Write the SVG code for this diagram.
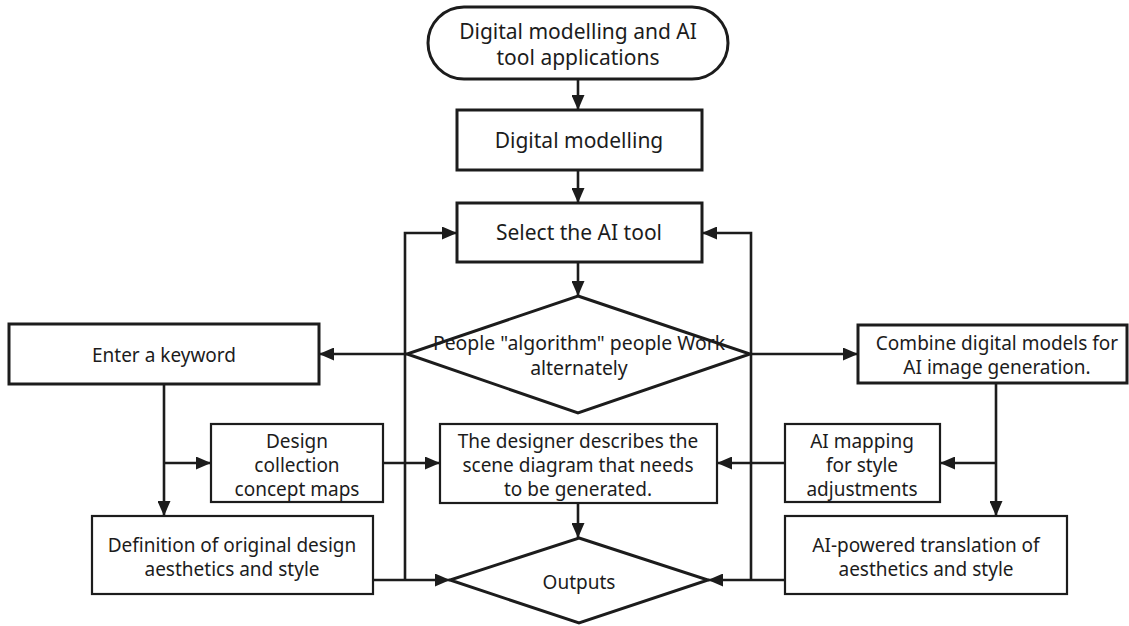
<svg xmlns="http://www.w3.org/2000/svg" width="1129" height="626" viewBox="0 0 1129 626">
<style>
.n{fill:#fff;stroke:#1c1c1c;stroke-width:2.2}
.b{fill:#fff;stroke:#1c1c1c;stroke-width:3}
.c{fill:none;stroke:#1c1c1c;stroke-width:2.6}
text{font-family:"Noto Sans","Open Sans",sans-serif;font-size:19px;fill:#1c1c1c;text-anchor:middle;dominant-baseline:central}
text.l{font-size:21px}
</style>
<defs>
<marker id="a" markerUnits="userSpaceOnUse" markerWidth="15" markerHeight="13" refX="15" refY="6.5" orient="auto">
<path d="M0,0 L15,6.5 L0,13 z" fill="#1c1c1c"/>
</marker>
</defs>
<rect width="1129" height="626" fill="#fff"/>
<g id="connectors">
<path class="c" d="M578,79 V110" marker-end="url(#a)"/>
<path class="c" d="M578,170 V203" marker-end="url(#a)"/>
<path class="c" d="M578,262 V296" marker-end="url(#a)"/>
<path class="c" d="M407,354 H319" marker-end="url(#a)"/>
<path class="c" d="M750,354 H858" marker-end="url(#a)"/>
<path class="c" d="M164,384 V516" marker-end="url(#a)"/>
<path class="c" d="M164,463 H211" marker-end="url(#a)"/>
<path class="c" d="M383,463 H440" marker-end="url(#a)"/>
<path class="c" d="M373,580 H450" marker-end="url(#a)"/>
<path class="c" d="M405,580 V233 H457" marker-end="url(#a)"/>
<path class="c" d="M578,503 V538" marker-end="url(#a)"/>
<path class="c" d="M996,383 V516" marker-end="url(#a)"/>
<path class="c" d="M996,463 H940" marker-end="url(#a)"/>
<path class="c" d="M785,463 H717" marker-end="url(#a)"/>
<path class="c" d="M785,580 H708" marker-end="url(#a)"/>
<path class="c" d="M751,580 V233 H702" marker-end="url(#a)"/>
</g>
<g id="start">
<rect class="b" x="428" y="7" width="300" height="72" rx="36" ry="36"/>
<text class="l" x="578" y="31">Digital modelling and AI</text>
<text class="l" x="578" y="57">tool applications</text>
</g>
<g id="digital-modelling">
<rect class="b" x="457" y="110" width="245" height="60"/>
<text class="l" x="579" y="140">Digital modelling</text>
</g>
<g id="select-ai-tool">
<rect class="b" x="457" y="203" width="245" height="59"/>
<text class="l" x="579" y="232">Select the AI tool</text>
</g>
<g id="people-algorithm">
<path class="b" d="M578,296 L750,354 L578,413 L407,354 Z"/>
<text x="579" y="342" style="font-size:19.4px">People "algorithm" people Work</text>
<text x="579" y="367" style="font-size:19.4px">alternately</text>
</g>
<g id="enter-keyword">
<rect class="b" x="9" y="324" width="310" height="60"/>
<text x="164" y="355">Enter a keyword</text>
</g>
<g id="combine">
<rect class="b" x="858" y="325" width="269" height="58"/>
<text x="997" y="343">Combine digital models for</text>
<text x="997" y="367">AI image generation.</text>
</g>
<g id="design-collection">
<rect class="n" x="211" y="424" width="172" height="78"/>
<text x="297" y="441">Design</text>
<text x="297" y="465">collection</text>
<text x="297" y="489">concept maps</text>
</g>
<g id="designer-describes">
<rect class="n" x="440" y="424" width="277" height="79"/>
<text x="578" y="441">The designer describes the</text>
<text x="578" y="465">scene diagram that needs</text>
<text x="578" y="489">to be generated.</text>
</g>
<g id="ai-mapping">
<rect class="n" x="785" y="424" width="155" height="78"/>
<text x="862" y="441">AI mapping</text>
<text x="862" y="465">for style</text>
<text x="862" y="489">adjustments</text>
</g>
<g id="definition">
<rect class="n" x="92" y="516" width="281" height="78"/>
<text x="232" y="545">Definition of original design</text>
<text x="232" y="569">aesthetics and style</text>
</g>
<g id="ai-powered">
<rect class="n" x="785" y="516" width="282" height="78"/>
<text x="926" y="545">AI-powered translation of</text>
<text x="926" y="569">aesthetics and style</text>
</g>
<g id="outputs">
<path class="b" d="M579,538 L708,580 L579,623 L450,580 Z"/>
<text x="579" y="582">Outputs</text>
</g>
</svg>
